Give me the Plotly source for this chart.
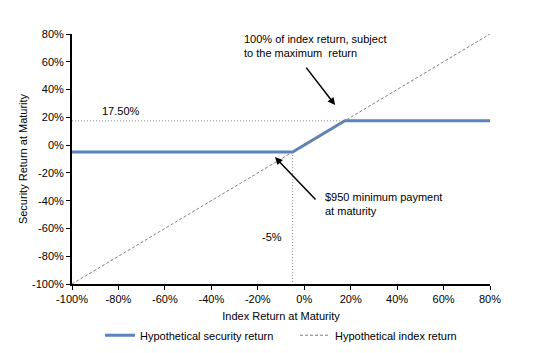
import plotly.graph_objects as go

# Data
index_x = [-100, 80]
index_y = [-100, 80]
sec_x = [-100, -5, 17.5, 80]
sec_y = [-5, -5, 17.5, 17.5]
cap = 17.5
floor = -5
x_ticks = [-100, -80, -60, -40, -20, 0, 20, 40, 60, 80]
y_ticks = [-100, -80, -60, -40, -20, 0, 20, 40, 60, 80]

FONT = "Liberation Sans, Arial, sans-serif"

fig = go.Figure()
# reference dotted lines
fig.add_trace(go.Scatter(x=[-100, cap], y=[cap, cap], mode="lines",
                         line=dict(color="#8c8c8c", width=1, dash="1px,2px"),
                         showlegend=False, hoverinfo="skip"))
fig.add_trace(go.Scatter(x=[floor, floor], y=[floor, -100], mode="lines",
                         line=dict(color="#8c8c8c", width=1, dash="1px,2px"),
                         showlegend=False, hoverinfo="skip"))
fig.add_trace(go.Scatter(x=sec_x, y=sec_y, mode="lines",
                         name="Hypothetical security return",
                         line=dict(color="#5a84bd", width=3)))
fig.add_trace(go.Scatter(x=index_x, y=index_y, mode="lines",
                         name="Hypothetical index return",
                         line=dict(color="#808080", width=1, dash="3px,2px")))

annos = [
    dict(x=-78.9, y=24.5, text="17.50%", showarrow=False),
    dict(x=-13.9, y=-66.2, text="-5%", showarrow=False),
    dict(x=-26.8, y=71.3, text="100% of index return, subject<br>to the maximum  return",
         showarrow=False, xanchor="left", align="left"),
    dict(x=8.1, y=-42.1, text="$950 minimum payment<br>at maturity",
         showarrow=False, xanchor="left", align="left"),
    dict(x=13.3, y=28.8, ax=-30, ay=-39, text="", showarrow=True, arrowhead=2,
         arrowsize=1, arrowwidth=1.5, arrowcolor="black", standoff=0),
    dict(x=-12.6, y=-8.6, ax=42, ay=44, text="", showarrow=True, arrowhead=2,
         arrowsize=1, arrowwidth=1.5, arrowcolor="black", standoff=0),
]
for a in annos:
    a.setdefault("font", dict(family=FONT, size=11, color="black"))
    fig.add_annotation(**a)

fig.update_xaxes(range=[-100, 80], tickvals=x_ticks,
                 ticktext=[f"{v}%" for v in x_ticks],
                 showgrid=False, zeroline=False, showline=True, linecolor="black",
                 linewidth=2, ticks="outside", ticklen=4, tickcolor="black", tickwidth=1,
                 title=dict(text="Index Return at Maturity", standoff=8,
                            font=dict(family=FONT, size=11, color="black")),
                 tickfont=dict(family=FONT, size=11, color="black"))
fig.update_yaxes(range=[-100, 80], tickvals=y_ticks,
                 ticktext=[f"{v}%" for v in y_ticks],
                 showgrid=False, zeroline=False, showline=True, linecolor="black",
                 linewidth=2, ticks="outside", ticklen=4, tickcolor="black", tickwidth=1,
                 title=dict(text="Security Return at Maturity", standoff=2,
                            font=dict(family=FONT, size=11, color="black")),
                 tickfont=dict(family=FONT, size=11, color="black"))

fig.update_layout(
    width=554, height=353,
    margin=dict(l=72, r=64, t=34, b=69, autoexpand=False),
    plot_bgcolor="white", paper_bgcolor="white",
    font=dict(family=FONT, size=11, color="black"),
    legend=dict(orientation="h", x=0.067, y=-0.205, xanchor="left", yanchor="middle",
                font=dict(family=FONT, size=11, color="black"),
                entrywidth=150, entrywidthmode="pixels"),
)

fig.write_html("out.html")
